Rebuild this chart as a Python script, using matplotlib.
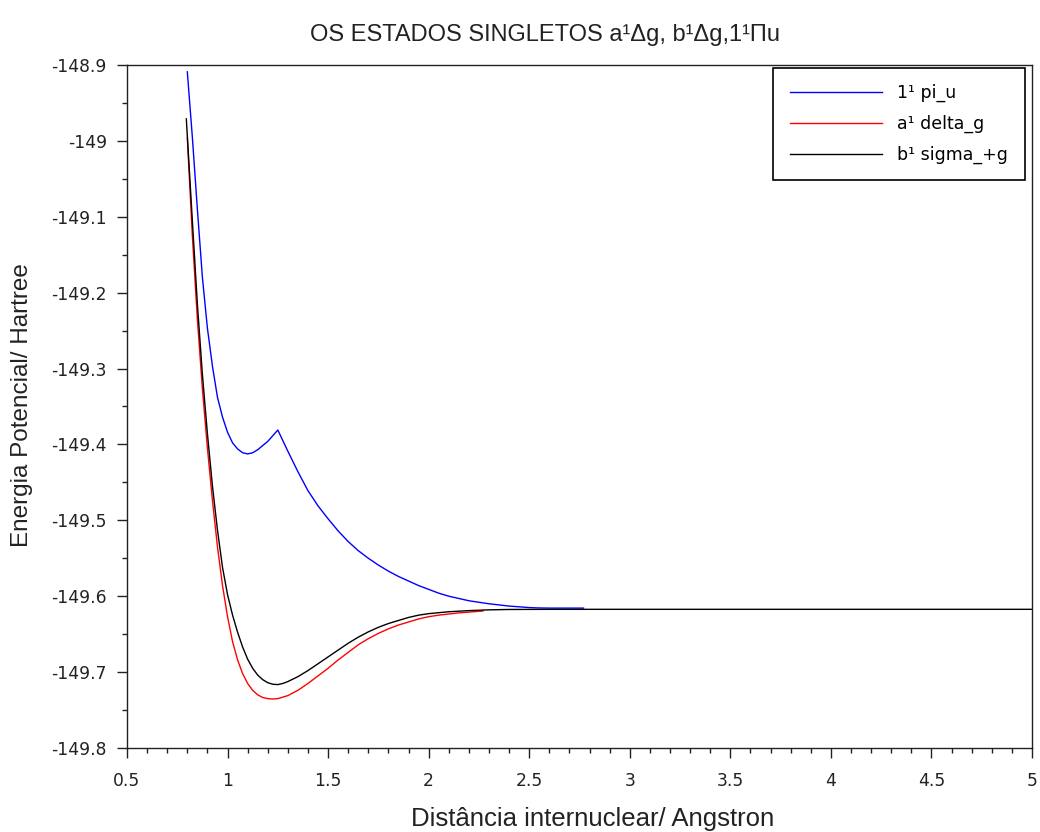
import numpy as np
import matplotlib.pyplot as plt
from matplotlib.ticker import MultipleLocator, FuncFormatter

plt.rcParams["font.family"] = ["Liberation Sans", "DejaVu Sans"]
plt.rcParams["axes.unicode_minus"] = False

# 1 1Pi_u state
r_pi = [0.80, 0.825, 0.85, 0.875, 0.90, 0.925, 0.95, 0.975, 1.00, 1.025, 1.05,
        1.075, 1.10, 1.125, 1.15, 1.20, 1.25, 1.30, 1.35, 1.40, 1.45, 1.50,
        1.55, 1.60, 1.65, 1.70, 1.75, 1.80, 1.85, 1.90, 1.95, 2.00, 2.05,
        2.10, 2.15, 2.20, 2.25, 2.30, 2.35, 2.40, 2.45, 2.50, 2.55, 2.60,
        2.70, 2.77]
e_pi = [-148.909, -148.995, -149.090, -149.180, -149.247, -149.297, -149.338,
        -149.364, -149.384, -149.398, -149.406, -149.411, -149.4125,
        -149.411, -149.407, -149.396, -149.381, -149.409, -149.436, -149.461,
        -149.481, -149.498, -149.514, -149.528, -149.540, -149.550, -149.559,
        -149.567, -149.574, -149.580, -149.586, -149.591, -149.596, -149.600,
        -149.603, -149.606, -149.608, -149.610, -149.6115, -149.613,
        -149.614, -149.615, -149.6155, -149.6157, -149.6157, -149.6157]

# a 1Delta_g state
r_delta = [0.80, 0.825, 0.85, 0.875, 0.90, 0.925, 0.95, 0.975, 1.00, 1.025,
           1.05, 1.075, 1.10, 1.125, 1.15, 1.175, 1.20, 1.225, 1.25, 1.275,
           1.30, 1.35, 1.40, 1.45, 1.50, 1.55, 1.60, 1.65, 1.70, 1.75, 1.80,
           1.85, 1.90, 1.95, 2.00, 2.05, 2.10, 2.15, 2.20, 2.27]
e_delta = [-148.996, -149.125, -149.235, -149.327, -149.405, -149.474,
           -149.535, -149.586, -149.627, -149.660, -149.684, -149.702,
           -149.715, -149.724, -149.730, -149.7335, -149.735, -149.7355,
           -149.735, -149.733, -149.731, -149.724, -149.715, -149.705,
           -149.695, -149.684, -149.674, -149.664, -149.656, -149.649,
           -149.643, -149.638, -149.634, -149.630, -149.627, -149.625,
           -149.6235, -149.622, -149.621, -149.6195]

# b 1Sigma+_g state
r_sigma = [0.795, 0.825, 0.85, 0.875, 0.90, 0.925, 0.95, 0.975, 1.00, 1.025,
           1.05, 1.075, 1.10, 1.125, 1.15, 1.175, 1.20, 1.225, 1.25, 1.275,
           1.30, 1.35, 1.40, 1.45, 1.50, 1.55, 1.60, 1.65, 1.70, 1.75, 1.80,
           1.85, 1.90, 1.95, 2.00, 2.10, 2.20, 2.30, 2.40, 2.60, 5.00]
e_sigma = [-148.971, -149.105, -149.215, -149.308, -149.386, -149.455,
           -149.513, -149.562, -149.598, -149.625, -149.6475, -149.667,
           -149.683, -149.695, -149.704, -149.710, -149.714, -149.716,
           -149.7165, -149.715, -149.7125, -149.706, -149.698, -149.689,
           -149.680, -149.671, -149.662, -149.654, -149.647, -149.641,
           -149.636, -149.632, -149.628, -149.625, -149.623, -149.6205,
           -149.619, -149.618, -149.6175, -149.6173, -149.6173]

fig = plt.figure(figsize=(10.4, 8.32), dpi=100)
ax = fig.add_axes([0.1221, 0.101, 0.8702, 0.8209])

ax.plot(r_pi, e_pi, color="#0000ff", lw=1.0, label="1¹ pi_u")
ax.plot(r_delta, e_delta, color="#ff0000", lw=1.0, label="a¹ delta_g")
ax.plot(r_sigma, e_sigma, color="#000000", lw=1.0, label="b¹ sigma_+g")

ax.set_xlim(0.5, 5)
ax.set_ylim(-149.8, -148.9)
ax.xaxis.set_major_locator(MultipleLocator(0.5))
ax.xaxis.set_minor_locator(MultipleLocator(0.1))
ax.yaxis.set_major_locator(MultipleLocator(0.1))
ax.yaxis.set_minor_locator(MultipleLocator(0.05))
fmt = FuncFormatter(lambda v, p: "%g" % round(v, 3))
ax.xaxis.set_major_formatter(fmt)
ax.yaxis.set_major_formatter(fmt)

ax.tick_params(which="major", direction="out", length=7, width=1,
               color="#222222", labelsize=12.3, labelcolor="#222222",
               labelfontfamily="DejaVu Sans")
ax.tick_params(axis="x", which="major", pad=10)
ax.tick_params(axis="y", which="major", pad=7.5)
ax.tick_params(which="minor", direction="out", length=3.5, width=1,
               color="#222222")
for s in ax.spines.values():
    s.set_color("#222222")
    s.set_linewidth(1.0)

fig.text(0.524, 0.958, "OS ESTADOS SINGLETOS a¹Δg, b¹Δg,1¹Πu",
         ha="center", va="center", fontsize=17, color="#222222")
fig.text(0.570, 0.016, "Distância internuclear/ Angstron",
         ha="center", va="center", fontsize=18.5, color="#222222")
fig.text(0.021, 0.513, "Energia Potencial/ Hartree", rotation=90,
         ha="center", va="center", fontsize=17.5, color="#222222")

leg = ax.legend(loc="upper right", bbox_to_anchor=(0.992, 0.996),
                fancybox=False, framealpha=1, edgecolor="#000000",
                handlelength=5.3, handletextpad=0.9, borderpad=0.95,
                labelspacing=0.72, borderaxespad=0,
                prop={"family": "DejaVu Sans", "size": 12.5})
leg.get_frame().set_linewidth(1.2)

fig.savefig("out.png", dpi=100)
